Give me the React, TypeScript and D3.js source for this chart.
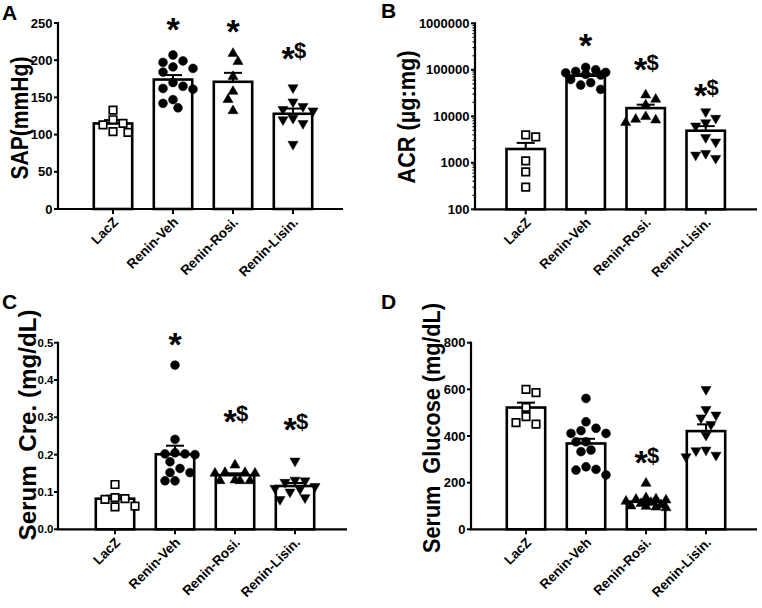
import React from "react";
import * as d3 from "d3";

const categories = ["LacZ", "Renin-Veh", "Renin-Rosi.", "Renin-Lisin."];

// Panel A – SAP (mmHg)
const sapLacZ = [133, 120, 115, 113, 104, 103];
const sapVeh = [207, 199, 197, 191, 189, 184, 170, 165, 162, 161, 147, 142, 136];
const sapRosi = [209, 198, 178, 158, 147, 132];
const sapLisin = [163, 144, 138, 134, 132, 122, 120, 115, 87];
const sapMean = [115, 174, 171, 128];
const sapSem = [4.5, 6, 12, 7];
const sapTicks = [0, 50, 100, 150, 200, 250];
const sapSig = ["", "*", "*", "*$"];
const sapSigY = [0, 252, 249, 213];

// Panel B – ACR (µg:mg), log scale
const acrLacZ = [4000, 3600, 1100, 640, 300];
const acrVeh = [113000, 100000, 92000, 88000, 86000, 80000, 77000, 62000, 53000, 47000, 38000];
const acrRosi = [28700, 23200, 17500, 9800, 8600, 8300, 7300];
const acrLisin = [12600, 9100, 7300, 6200, 3500, 2800, 1600, 1470, 1250];
const acrMean = [1980, 74600, 15000, 4900];
const acrSem = [700, 6000, 2800, 1250];
const acrTicks = [100, 1000, 10000, 100000, 1000000];
const acrSig = ["", "*", "*$", "*$"];
const acrSigY = [0, 475000, 143600, 41600];

// Panel C – Serum creatinine (mg/dL)
const creLacZ = [0.12, 0.085, 0.082, 0.08, 0.062, 0.06];
const creVeh = [0.44, 0.241, 0.205, 0.202, 0.2, 0.202, 0.181, 0.163, 0.152, 0.152, 0.13, 0.13];
const creRosi = [0.172, 0.152, 0.152, 0.15, 0.15, 0.132, 0.13, 0.13, 0.13];
const creLisin = [0.183, 0.132, 0.126, 0.13, 0.115, 0.108, 0.11, 0.1, 0.085, 0.08];
const creMean = [0.082, 0.201, 0.145, 0.116];
const creSem = [0.008, 0.023, 0.005, 0.008];
const creTicks = [0, 0.1, 0.2, 0.3, 0.4, 0.5];
const creSig = ["", "*", "*$", "*$"];
const creSigY = [0, 0.516, 0.309, 0.288];

// Panel D – Serum glucose (mg/dL)
const gluLacZ = [600, 586, 523, 483, 457, 451];
const gluVeh = [561, 461, 433, 423, 411, 411, 375, 375, 340, 333, 268, 257, 254, 233];
const gluRosi = [197, 135, 130, 128, 125, 120, 115, 110, 105, 100, 98, 95, 92];
const gluLisin = [600, 514, 490, 478, 450, 404, 340, 337, 318, 311];
const gluMean = [522, 368, 118, 421];
const gluSem = [21, 20, 7, 29];
const gluTicks = [0, 200, 400, 600, 800];
const gluSig = ["", "", "*$", ""];
const gluSigY = [0, 0, 318, 0];

const FONT = "'Liberation Sans', Arial, Helvetica, sans-serif";

type Layout = {
  axisX0: number;
  axisX1: number;
  axisY: number;
  topY: number;
  c0: number;
  tickFont: number;
  tickGap: number;
  titleX: number;
  titleY: number;
  titleLen: number;
  letterX: number;
  letterY: number;
};

type Cfg = {
  groups: number[][];
  means: number[];
  sems: number[];
  ticks: number[];
  log: boolean;
  fmt: string;
  sig: string[];
  sigY: number[];
  title: string;
  letter: string;
  L: Layout;
};

// Prism-like scatter: spread close points sideways within the bar width
function swarm(vals: number[], ys: (v: number) => number, d = 9, step = 5, maxK = 4) {
  const pts = vals.map((v) => ({ v, y: ys(v), x: 0 }));
  const order = [...pts].sort((a, b) => a.y - b.y);
  const placed: { x: number; y: number }[] = [];
  let flip = 1;
  for (const p of order) {
    let chosen: number | null = null;
    let best = 0;
    let bestScore = -Infinity;
    outer: for (let k = 0; k <= maxK; k++) {
      const cands = k === 0 ? [0] : [flip * k * step, -flip * k * step];
      for (const c of cands) {
        let m = Infinity;
        for (const q of placed) m = Math.min(m, Math.hypot(q.x - c, q.y - p.y));
        if (m >= d) {
          chosen = c;
          break outer;
        }
        if (m > bestScore + 0.01) {
          bestScore = m;
          best = c;
        }
      }
    }
    if (chosen === null) chosen = best;
    p.x = chosen;
    if (chosen !== 0) flip = -Math.sign(chosen);
    placed.push(p);
  }
  return pts;
}

const symbolTypes = [d3.symbolSquare, d3.symbolCircle, d3.symbolTriangle, d3.symbolTriangle];
const symbolSizes = [56, 62, 44, 44];

function Panel({ cfg }: { cfg: Cfg }) {
  const { groups, means, sems, ticks, log, fmt, sig, sigY, title, letter, L } = cfg;
  const lo = ticks[0];
  const hi = ticks[ticks.length - 1];
  const y: any = log
    ? d3.scaleLog().domain([lo, hi]).range([L.axisY, L.topY])
    : d3.scaleLinear().domain([lo, hi]).range([L.axisY, L.topY]);
  const x = d3
    .scaleBand()
    .domain(categories)
    .range([L.c0 - 30, L.c0 + 210])
    .paddingInner(0.36)
    .paddingOuter(0.18);
  const bw = x.bandwidth();
  const f = d3.format(fmt);
  const minor: number[] = log
    ? (y.ticks() as number[]).filter((t: number) => !ticks.includes(t))
    : [];

  return (
    <g>
      <text x={L.letterX} y={L.letterY} fontSize={21} fontWeight="bold" fontFamily={FONT}>
        {letter}
      </text>
      <text
        transform={`translate(${L.titleX},${L.titleY}) rotate(-90)`}
        textAnchor="middle"
        fontSize={24}
        fontWeight="bold"
        fontFamily={FONT}
        textLength={L.titleLen}
        lengthAdjust="spacingAndGlyphs"
        style={{ whiteSpace: "pre" }}
      >
        {title}
      </text>

      {/* bars */}
      {categories.map((c, i) => (
        <rect
          key={"b" + c}
          x={x(c)}
          y={y(means[i])}
          width={bw}
          height={L.axisY - y(means[i])}
          fill="#fff"
          stroke="#000"
          strokeWidth={2.6}
        />
      ))}
      {/* error bars */}
      {categories.map((c, i) => {
        const cx = (x(c) as number) + bw / 2;
        const y1 = y(means[i]);
        const y2 = y(means[i] + sems[i]);
        return (
          <g key={"e" + c} stroke="#000" strokeWidth={2}>
            <line x1={cx} x2={cx} y1={y1} y2={y2} />
            <line x1={cx - 9} x2={cx + 9} y1={y2} y2={y2} />
          </g>
        );
      })}
      {/* points */}
      {groups.map((vals, i) => {
        const cx = (x(categories[i]) as number) + bw / 2;
        const pts = swarm(vals, (v) => y(v));
        const path = d3.symbol().type(symbolTypes[i]).size(symbolSizes[i])() as string;
        return pts.map((p, j) => (
          <path
            key={"p" + i + "_" + j}
            d={path}
            transform={`translate(${cx + p.x},${p.y})${i === 3 ? " rotate(180)" : ""}`}
            fill={i === 0 ? "#fff" : "#000"}
            stroke="#000"
            strokeWidth={i === 0 ? 1.7 : 0.5}
          />
        ));
      })}
      {/* axes */}
      <line x1={L.axisX0} x2={L.axisX0} y1={L.topY - 1} y2={L.axisY} stroke="#000" strokeWidth={2.2} />
      <line x1={L.axisX0 - 1} x2={L.axisX1} y1={L.axisY} y2={L.axisY} stroke="#000" strokeWidth={2.2} />
      {ticks.map((t) => (
        <g key={"t" + t}>
          <line x1={L.axisX0 - 4} x2={L.axisX0} y1={y(t)} y2={y(t)} stroke="#000" strokeWidth={2} />
          <text
            x={L.axisX0 - L.tickGap}
            y={y(t)}
            dy="0.36em"
            textAnchor="end"
            fontSize={L.tickFont}
            fontWeight="bold"
            fontFamily={FONT}
          >
            {f(t)}
          </text>
        </g>
      ))}
      {minor.map((t) => (
        <line key={"m" + t} x1={L.axisX0 - 2.5} x2={L.axisX0} y1={y(t)} y2={y(t)} stroke="#000" strokeWidth={1.2} />
      ))}
      {categories.map((c) => {
        const cx = (x(c) as number) + bw / 2;
        return (
          <g key={"x" + c}>
            <line x1={cx} x2={cx} y1={L.axisY} y2={L.axisY + 5} stroke="#000" strokeWidth={2} />
            <text
              transform={`translate(${cx + 6},${L.axisY + 14}) rotate(-45)`}
              textAnchor="end"
              fontSize={13.5}
              fontWeight="bold"
              fontFamily={FONT}
            >
              {c}
            </text>
          </g>
        );
      })}
      {/* significance marks */}
      {categories.map((c, i) => {
        const s = sig[i];
        if (!s) return null;
        const cx = (x(c) as number) + bw / 2;
        const yc = y(sigY[i]);
        if (s === "*") {
          return (
            <text key={"s" + c} x={cx} y={yc + 19} textAnchor="middle" fontSize={34} fontWeight="bold" fontFamily={FONT}>
              *
            </text>
          );
        }
        return (
          <g key={"s" + c} fontWeight="bold" fontFamily={FONT}>
            <text x={cx - 5} y={yc + 19} textAnchor="middle" fontSize={34}>
              *
            </text>
            <text x={cx + 7} y={yc + 7.5} textAnchor="middle" fontSize={22}>
              $
            </text>
          </g>
        );
      })}
    </g>
  );
}

const panels: Cfg[] = [
  {
    groups: [sapLacZ, sapVeh, sapRosi, sapLisin],
    means: sapMean,
    sems: sapSem,
    ticks: sapTicks,
    log: false,
    fmt: "d",
    sig: sapSig,
    sigY: sapSigY,
    title: "SAP(mmHg)",
    letter: "A",
    L: { axisX0: 58, axisX1: 343, axisY: 209, topY: 23, c0: 113, tickFont: 13, tickGap: 5.5, titleX: 28, titleY: 118, titleLen: 123, letterX: 2, letterY: 20 },
  },
  {
    groups: [acrLacZ, acrVeh, acrRosi, acrLisin],
    means: acrMean,
    sems: acrSem,
    ticks: acrTicks,
    log: true,
    fmt: "d",
    sig: acrSig,
    sigY: acrSigY,
    title: "ACR (µg:mg)",
    letter: "B",
    L: { axisX0: 475, axisX1: 757, axisY: 209.3, topY: 23.3, c0: 525.7, tickFont: 13, tickGap: 5.5, titleX: 415, titleY: 117, titleLen: 133, letterX: 381, letterY: 18 },
  },
  {
    groups: [creLacZ, creVeh, creRosi, creLisin],
    means: creMean,
    sems: creSem,
    ticks: creTicks,
    log: false,
    fmt: ".1f",
    sig: creSig,
    sigY: creSigY,
    title: "Serum  Cre. (mg/dL)",
    letter: "C",
    L: { axisX0: 58, axisX1: 347, axisY: 529.3, topY: 342.7, c0: 115, tickFont: 11.5, tickGap: 4.5, titleX: 36, titleY: 425, titleLen: 231, letterX: 2, letterY: 309 },
  },
  {
    groups: [gluLacZ, gluVeh, gluRosi, gluLisin],
    means: gluMean,
    sems: gluSem,
    ticks: gluTicks,
    log: false,
    fmt: "d",
    sig: gluSig,
    sigY: gluSigY,
    title: "Serum  Glucose (mg/dL)",
    letter: "D",
    L: { axisX0: 471, axisX1: 757, axisY: 529.3, topY: 342.7, c0: 526, tickFont: 13, tickGap: 5.5, titleX: 440, titleY: 428, titleLen: 250, letterX: 381, letterY: 309 },
  },
];

export default function App() {
  return (
    <svg
      width={762}
      height={608}
      viewBox="0 0 762 608"
      style={{ position: "absolute", left: 0, top: 0, background: "#fff" }}
    >
      <rect width={762} height={608} fill="#fff" />
      {panels.map((p) => (
        <Panel key={p.letter} cfg={p} />
      ))}
    </svg>
  );
}
